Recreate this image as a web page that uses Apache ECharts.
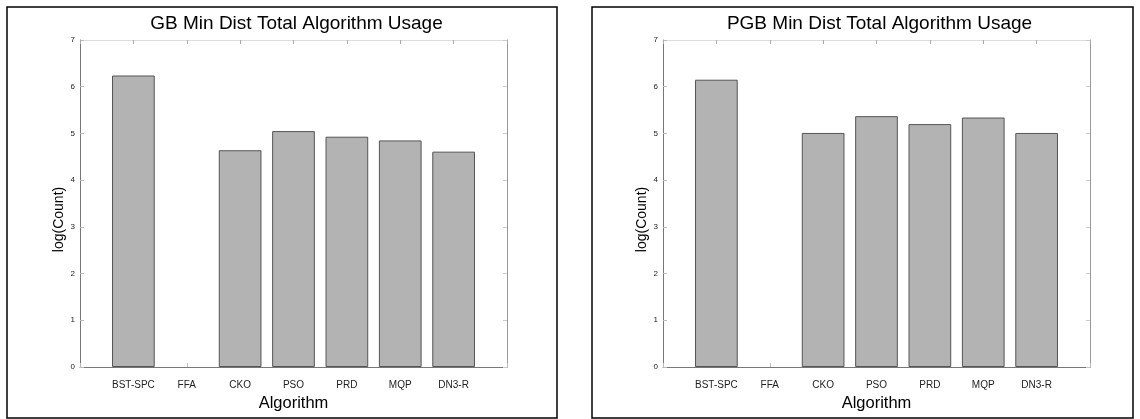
<!DOCTYPE html>
<html>
<head>
<meta charset="utf-8">
<script src="https://cdn.jsdelivr.net/npm/echarts@6/dist/echarts.min.js"></script>
<style>
html,body{margin:0;padding:0;background:#fff;}
#c{width:1140px;height:419px;}
</style>
</head>
<body>
<div id="c"></div>
<script>
const categories = ['BST-SPC','FFA','CKO','PSO','PRD','MQP','DN3-R'];
const gbValues  = [6.24, 0, 4.64, 5.05, 4.93, 4.85, 4.61];
const pgbValues = [6.15, 0, 5.01, 5.37, 5.20, 5.34, 5.01];
const yTicks = [0,1,2,3,4,5,6,7];
const titles = ['GB Min Dist Total Algorithm Usage','PGB Min Dist Total Algorithm Usage'];

const FONT = '"Liberation Sans", Arial, sans-serif';
const chart = echarts.init(document.getElementById('c'));
const grids = [
  {left:80, top:40, width:427, height:327},
  {left:663, top:40, width:427, height:327}
];
const xAxes = [], yAxes = [], series = [];
[gbValues, pgbValues].forEach((vals, g) => {
  xAxes.push({
    type:'value', gridIndex:g, min:0, max:categories.length+1, interval:1,
    position:'bottom',
    name:'Algorithm', nameLocation:'middle', nameGap:21,
    nameTextStyle:{fontFamily:FONT, fontSize:16.5, color:'#000'},
    axisLine:{show:true, onZero:false, lineStyle:{color:'#777', width:1}},
    axisTick:{show:true, inside:true, length:4, lineStyle:{color:'#bbb'}},
    axisLabel:{margin:13, fontFamily:FONT, fontSize:10, color:'#222',
      formatter:v => (v>=1 && v<=categories.length) ? categories[v-1] : ''},
    splitLine:{show:false}
  });
  xAxes.push({
    type:'value', gridIndex:g, min:0, max:categories.length+1, interval:1,
    position:'top',
    axisLine:{show:true, onZero:false, lineStyle:{color:'#ddd', width:1}},
    axisTick:{show:true, inside:true, length:4, lineStyle:{color:'#aaa'}},
    axisLabel:{show:false}, splitLine:{show:false}
  });
  yAxes.push({
    type:'value', gridIndex:g, min:yTicks[0], max:yTicks[yTicks.length-1], interval:1,
    position:'left',
    name:'log(Count)', nameLocation:'middle', nameGap:14,
    nameTextStyle:{fontFamily:FONT, fontSize:14, color:'#000', padding:[0,32,0,0]},
    axisLine:{show:true, onZero:false, lineStyle:{color:'#777', width:1}},
    axisTick:{show:true, inside:true, length:4, lineStyle:{color:'#bbb'}},
    axisLabel:{margin:5, fontFamily:FONT, fontSize:8, color:'#222'},
    splitLine:{show:false}
  });
  yAxes.push({
    type:'value', gridIndex:g, min:yTicks[0], max:yTicks[yTicks.length-1], interval:1,
    position:'right',
    axisLine:{show:true, onZero:false, lineStyle:{color:'#999', width:1}},
    axisTick:{show:true, inside:true, length:4, lineStyle:{color:'#ccc'}},
    axisLabel:{show:false}, splitLine:{show:false}
  });
  series.push({
    type:'bar', xAxisIndex:g*2, yAxisIndex:g*2,
    barWidth:'80%',
    data: vals.map((v,i) => ({value:[i+1, v], itemStyle: v === 0 ? {borderWidth:0} : undefined})),
    itemStyle:{color:'#b3b3b3', borderColor:'#555', borderWidth:1},
    silent:true, animation:false
  });
});

chart.setOption({
  backgroundColor:'#fff',
  animation:false,
  title: titles.map((t,i) => ({
    text:t, left: grids[i].left + grids[i].width/2 - 2, top:9, textAlign:'center',
    textStyle:{fontFamily:FONT, fontSize:19, fontWeight:'normal', color:'#000'}
  })),
  grid: grids.map(g => Object.assign({containLabel:false}, g)),
  xAxis: xAxes,
  yAxis: yAxes,
  series: series,
  graphic: [
    {type:'rect', shape:{x:7, y:7, width:550, height:411}, style:{fill:'none', stroke:'#000', lineWidth:1.5}, silent:true},
    {type:'rect', shape:{x:592, y:7, width:541, height:411}, style:{fill:'none', stroke:'#000', lineWidth:1.5}, silent:true}
  ]
});
</script>
</body>
</html>
